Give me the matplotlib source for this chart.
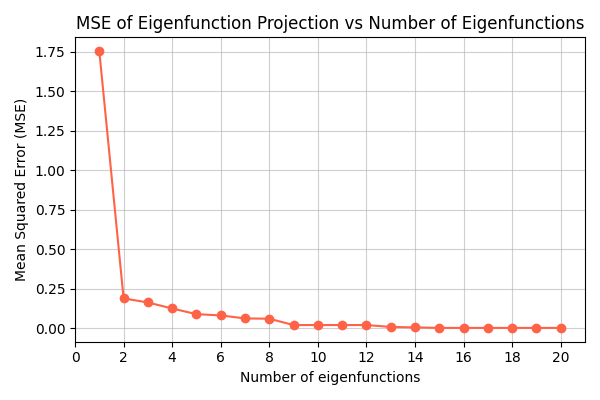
import matplotlib
matplotlib.use("Agg")
import matplotlib.pyplot as plt

n_eigen = list(range(1, 21))
mse = [1.755, 0.188, 0.162, 0.124, 0.088, 0.080, 0.061, 0.059, 0.019, 0.019,
       0.019, 0.019, 0.007, 0.004, 0.001, 0.001, 0.001, 0.001, 0.001, 0.001]

fig, ax = plt.subplots(figsize=(6, 4), dpi=100)
ax.plot(n_eigen, mse, marker='o', color='tomato')
ax.set_title('MSE of Eigenfunction Projection vs Number of Eigenfunctions')
ax.set_xlabel('Number of eigenfunctions')
ax.set_ylabel('Mean Squared Error (MSE)')
ax.set_xticks(range(0, 21, 2))
ax.set_xlim(0, 21)
ax.grid(True, alpha=0.6)
fig.tight_layout()
fig.savefig('out.png')
